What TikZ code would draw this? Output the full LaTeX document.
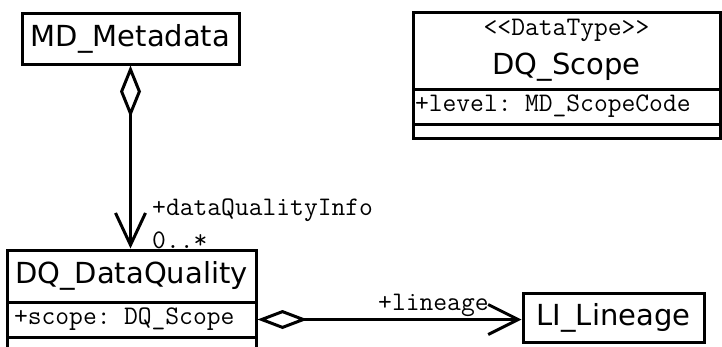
\documentclass[tikz,border=0pt]{standalone}
\usepackage{fontspec}
\newfontfamily\umlsans{DejaVu Sans}
\usetikzlibrary{arrows.meta}

\begin{document}
\begin{tikzpicture}[x=1pt, y=-1pt,
        box/.style={draw, line width=3pt, inner sep=0pt},
        namefont/.style={font=\umlsans\fontsize{29}{31}\selectfont},
        codefont/.style={font=\ttfamily\fontsize{26.8}{28}\selectfont},
        link/.style={line width=3pt}]
            \useasboundingbox (0,0) rectangle (722,346);

            \node[box, namefont, minimum width=217pt, minimum height=51pt] (md) at (130.5,38.5) {MD\_Metadata};

            \node[box, minimum width=307pt, minimum height=77pt] (scopehead) at (566.5,50.5) {};
            \node[codefont, inner sep=0pt] (stereo) at (566.5,30) {<{}<DataType>{}>};
            \node[namefont, inner sep=0pt] (scopename) at (566.5,67) {DQ\_Scope};
            \node[box, codefont, text width=303pt, inner xsep=2pt, minimum height=35pt, align=left] (scopeattr) at (566.5,106.5) {+level: MD\_ScopeCode};
            \node[box, minimum width=307pt, minimum height=14pt] (scopeops) at (566.5,131) {};

            \node[box, namefont, minimum width=249pt, minimum height=52pt] (dq) at (131.5,276) {DQ\_DataQuality};
            \node[box, codefont, text width=235pt, inner xsep=7pt, minimum height=35pt, align=left] (dqattr) at (131.5,319.5) {+scope: DQ\_Scope};
            \node[box, minimum width=249pt, minimum height=40pt] (dqops) at (131.5,357) {};

            \node[box, namefont, minimum width=181pt, minimum height=49pt] (li) at (613.5,317.5) {LI\_Lineage};

            \draw[link, {Diamond[open, length=52pt, width=21pt]}-{Straight Barb[length=32pt, width=30pt]}] (md.south) -- (md.south |- dq.north);
            \node[codefont, inner sep=0pt, anchor=west] (infolabel) at (152,210) {+dataQualityInfo};
            \node[codefont, inner sep=0pt, anchor=west] (infomult) at (152,240) {0..*};

            \draw[link, {Diamond[open, length=50pt, width=19pt]}-{Straight Barb[length=30pt, width=30pt]}] (dqattr.east) -- (dqattr.east -| li.west);
            \node[codefont, inner sep=0pt, anchor=west] (lineagelabel) at (378,305) {+lineage};
        \end{tikzpicture}
\end{document}
